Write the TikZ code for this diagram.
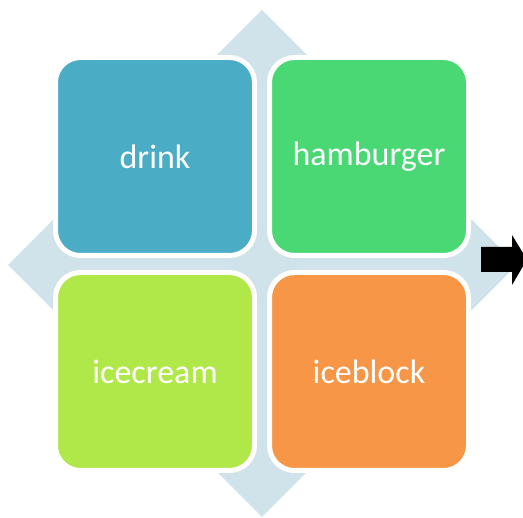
\documentclass[tikz,border=0pt]{standalone}
\usepackage{fontspec}
\setmainfont{Carlito}
\usetikzlibrary{positioning}
\definecolor{drinkblue}{HTML}{4BACC6}
\definecolor{burgergreen}{HTML}{4AD874}
\definecolor{creamlime}{HTML}{B0E84A}
\definecolor{blockorange}{HTML}{F79646}
\definecolor{crossblue}{HTML}{D0E2EA}

\tikzset{
  tile/.style={draw=white, line width=5pt, rounded corners=25pt, minimum width=199pt, minimum height=198pt, text=white, font=\fontsize{34}{40}\selectfont}
}

\begin{document}
\begin{tikzpicture}[x=1pt,y=-1pt]
\useasboundingbox (0,0) rectangle (523,518);
% light blue cross behind the tiles
\fill[crossblue] (262,10) -- (307,55) -- (307,220) -- (472,220) -- (517,265) -- (472,310) -- (307,310) -- (307,472) -- (262,517) -- (217,472) -- (217,310) -- (53,310) -- (8,265) -- (53,220) -- (217,220) -- (217,55) -- cycle;
\node[tile, fill=drinkblue] (drink) at (155,156.5) {drink};
\node[tile, fill=burgergreen] (hamburger) at (369,156.5) {hamburger};
\node[tile, fill=creamlime] (icecream) at (155,371.5) {icecream};
\node[tile, fill=blockorange] (iceblock) at (369,371.5) {iceblock};
% black arrow on the right
\fill[black] (481,247) -- (512,247) -- (512,235) -- (527,259.5) -- (512,285) -- (512,272) -- (481,272) -- cycle;
\end{tikzpicture}
\end{document}
